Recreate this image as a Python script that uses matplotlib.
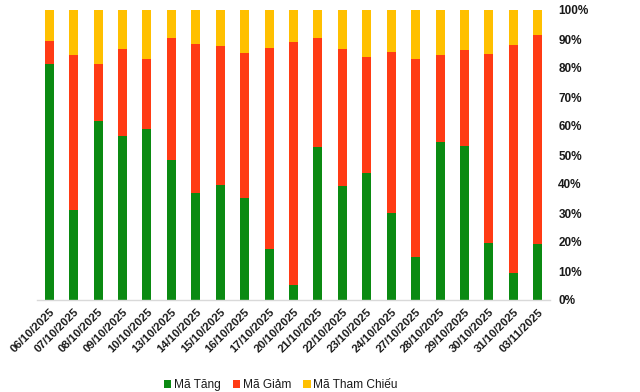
import matplotlib
matplotlib.use("Agg")
import matplotlib.pyplot as plt
import numpy as np
from matplotlib.ticker import FuncFormatter

dates = ["06/10/2025", "07/10/2025", "08/10/2025", "09/10/2025", "10/10/2025",
         "13/10/2025", "14/10/2025", "15/10/2025", "16/10/2025", "17/10/2025",
         "20/10/2025", "21/10/2025", "22/10/2025", "23/10/2025", "24/10/2025",
         "27/10/2025", "28/10/2025", "29/10/2025", "30/10/2025", "31/10/2025",
         "03/11/2025"]
tang = [81.5, 31.1, 61.7, 56.7, 59.0, 48.3, 36.9, 39.7, 35.2, 17.6, 5.2,
        52.9, 39.4, 43.8, 30.1, 14.8, 54.6, 53.2, 19.7, 9.3, 19.4]
giam = [7.8, 53.4, 19.7, 29.9, 24.1, 42.0, 51.4, 47.9, 50.0, 69.3, 83.8,
        37.4, 47.2, 40.0, 55.4, 68.3, 29.9, 33.0, 65.1, 78.6, 72.1]
tham_chieu = [100 - a - b for a, b in zip(tang, giam)]
series_names = ["Mã Tăng", "Mã Giảm", "Mã Tham Chiếu"]
colors = ["#0B8A12", "#FF3B14", "#FFC000"]

plt.rcParams['font.family'] = ['Liberation Sans', 'DejaVu Sans']

fig = plt.figure(figsize=(6.4, 3.92), dpi=100)
ax = fig.add_axes([37/640, 92/392, 513/640, 290/392])

x = np.arange(len(dates))
w = 0.37
t = np.array(tang); g = np.array(giam); r = np.array(tham_chieu)
ax.bar(x, t, w, color=colors[0], label=series_names[0])
ax.bar(x, g, w, bottom=t, color=colors[1], label=series_names[1])
ax.bar(x, r, w, bottom=t + g, color=colors[2], label=series_names[2])

ax.set_xlim(-0.5, len(dates) - 0.5)
ax.set_ylim(0, 100)
ax.set_yticks(np.arange(0, 101, 10))
ax.yaxis.set_major_formatter(FuncFormatter(lambda v, p: f"{int(v)}%"))
ax.yaxis.tick_right()
ax.tick_params(axis='y', length=0, pad=6, labelsize=8.5)
for lab in ax.get_yticklabels():
    lab.set_fontweight('bold')
    lab.set_color('#1a1a1a')

ax.set_xticks(x)
ax.set_xticklabels(dates, rotation=45, ha='right', rotation_mode='anchor',
                   fontsize=8.2, fontweight='bold', color='#1a1a1a')
ax.tick_params(axis='x', length=0, pad=5)

for s in ['top', 'left', 'right']:
    ax.spines[s].set_visible(False)
ax.spines['bottom'].set_color('#D9D9D9')
ax.spines['bottom'].set_linewidth(1)

fig.legend(loc='center', bbox_to_anchor=(281/640, 7/392), ncol=3,
           frameon=False, fontsize=8.6, handlelength=0.6, handleheight=0.6,
           handletextpad=0.25, columnspacing=1.0, labelcolor='#1a1a1a')

fig.savefig("out.png", dpi=100)
